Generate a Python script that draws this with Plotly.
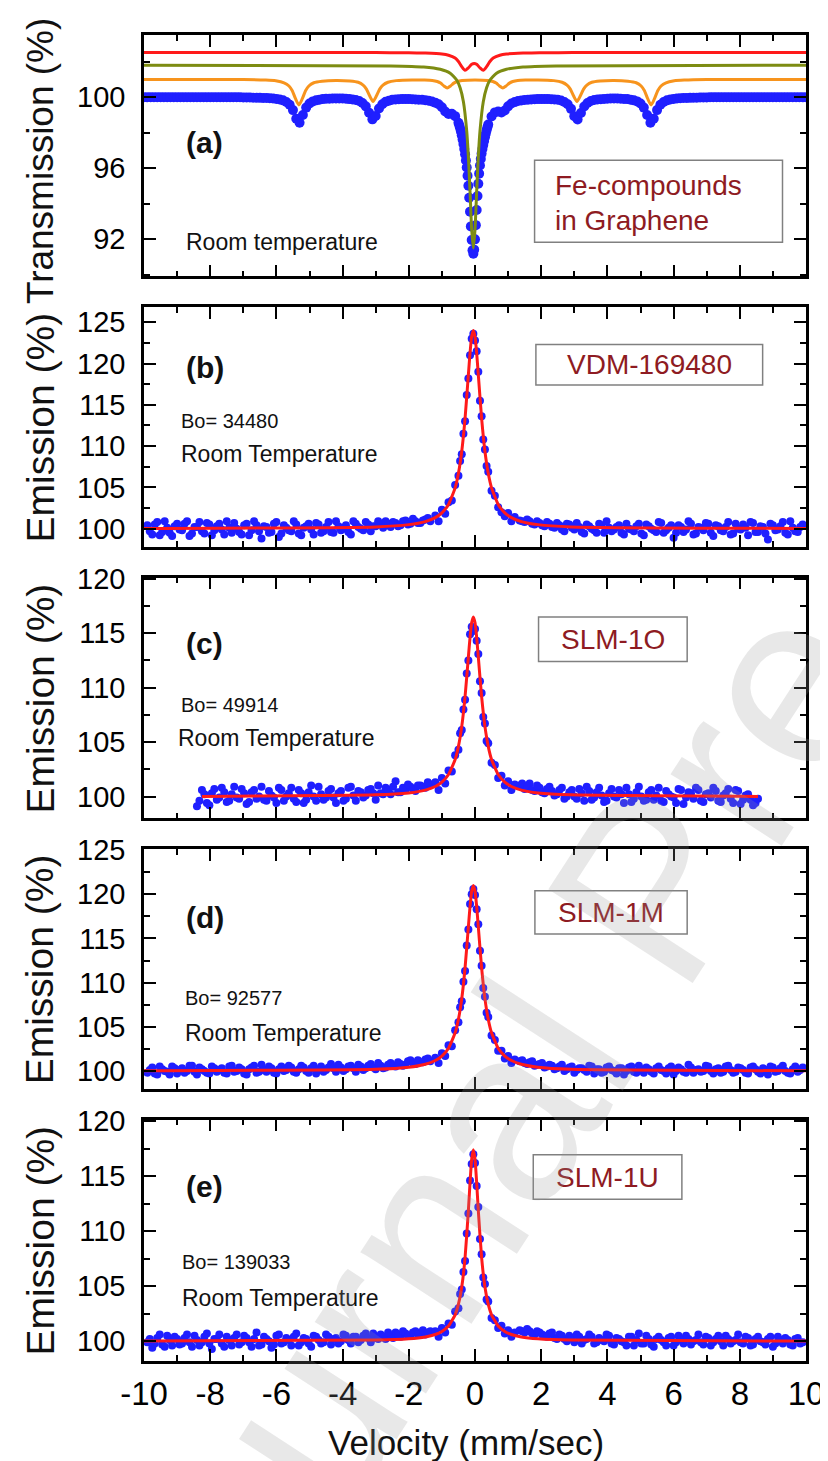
import plotly.graph_objects as go

FONT = "Liberation Sans, Arial, Helvetica, sans-serif"
BLUE = "#1f1fff"
RED = "#ff1a1a"
ORANGE = "#f7941d"
OLIVE = "#7d8c12"
DARKRED = "#8e1b22"

X_TICK_VALS = [-10, -8, -6, -4, -2, 0, 2, 4, 6, 8, 10]
X_TICK_TEXT = ["-10", "-8", "-6", "-4", "-2", "0", "2", "4", "6", "8", "10"]

# ---------------- Panel (a): transmission spectrum ----------------
A_BLUE_X = ([round(-10.0 + 0.1 * i, 3) for i in range(95)]
            + [round(-0.5 + 0.025 * i, 3) for i in range(37)]
            + [round(0.5 + 0.1 * i, 3) for i in range(96)])
A_BLUE_Y = [
    100.0, 100.0, 100.0, 100.0, 100.0, 100.0, 100.0, 100.0, 100.0, 100.0, 100.0, 100.0, 100.0, 100.0, 100.0,
    100.0, 100.0, 100.0, 100.0, 100.0, 100.0, 100.0, 100.0, 100.0, 100.0, 100.0, 100.0, 100.0, 100.0, 100.0,
    99.98, 99.98, 99.98, 99.97, 99.97, 99.96, 99.95, 99.95, 99.94, 99.92,
    99.90, 99.87, 99.82, 99.73, 99.57, 99.27, 98.78, 98.56, 98.99, 99.41,
    99.64, 99.76, 99.82, 99.86, 99.89, 99.91, 99.91, 99.92, 99.92, 99.92,
    99.92, 99.91, 99.89, 99.87, 99.84, 99.78, 99.67, 99.48, 99.12, 98.75,
    98.94, 99.36, 99.60, 99.74, 99.80, 99.85, 99.87, 99.88, 99.89, 99.89,
    99.89, 99.88, 99.87, 99.86, 99.85, 99.83, 99.80, 99.75, 99.69, 99.60,
    99.43, 99.19, 99.05, 99.06, 98.93,
    98.56, 98.42, 98.25, 98.07, 97.86, 97.62, 97.36, 97.08, 96.78, 96.43,
    96.04, 95.57, 95.01, 94.33, 93.55, 92.72, 91.95, 91.38, 91.18, 91.41,
    91.99, 92.79, 93.64, 94.43, 95.12, 95.69, 96.15, 96.52, 96.82, 97.08,
    97.31, 97.53, 97.74, 97.94, 98.13, 98.30, 98.46,
    98.91, 99.14, 99.19, 99.14, 99.25, 99.48, 99.64, 99.72, 99.78, 99.81,
    99.84, 99.86, 99.87, 99.88, 99.89, 99.89, 99.89, 99.89, 99.88, 99.87,
    99.85, 99.81, 99.73, 99.60, 99.34, 98.93, 98.74, 99.11, 99.47, 99.67,
    99.78, 99.84, 99.87, 99.88, 99.90, 99.91, 99.92, 99.92, 99.92, 99.91,
    99.90, 99.89, 99.86, 99.82, 99.76, 99.64, 99.41, 98.99, 98.56, 98.78,
    99.27, 99.57, 99.73, 99.82, 99.87, 99.90, 99.92, 99.94, 99.95, 99.95,
    99.96, 99.97, 99.97, 99.98, 99.98, 99.98,
    100.0, 100.0, 100.0, 100.0, 100.0, 100.0, 100.0, 100.0, 100.0, 100.0, 100.0, 100.0, 100.0, 100.0, 100.0,
    100.0, 100.0, 100.0, 100.0, 100.0, 100.0, 100.0, 100.0, 100.0, 100.0, 100.0, 100.0, 100.0, 100.0, 100.0,
]

A_ORANGE_X = [-10, -7, -6.32, -6.02, -5.77, -5.62, -5.52, -5.42, -5.32, -5.22, -5.12, -5.02, -4.87,
              -4.62, -4.2, -3.78, -3.53, -3.38, -3.28, -3.18, -3.08, -2.98, -2.88, -2.78, -2.63,
              -2.38, -1.9, -1.54, -1.29, -1.14, -1.04, -0.94, -0.84, -0.74, -0.64, -0.54, -0.39,
              0, 0.39, 0.54, 0.64, 0.74, 0.84, 0.94, 1.04, 1.14, 1.29, 1.54, 1.9, 2.38, 2.63,
              2.78, 2.88, 2.98, 3.08, 3.18, 3.28, 3.38, 3.53, 3.78, 4.2, 4.62, 4.87, 5.02, 5.12,
              5.22, 5.32, 5.42, 5.52, 5.62, 5.77, 6.02, 6.32, 7, 10]
A_ORANGE_Y = [101.00, 100.99, 100.96, 100.92, 100.81, 100.63, 100.36, 99.90, 99.56, 99.90, 100.36,
              100.63, 100.81, 100.90, 100.94, 100.91, 100.84, 100.68, 100.45, 100.06, 99.76, 100.06,
              100.45, 100.68, 100.84, 100.93, 100.97, 100.96, 100.94, 100.88, 100.79, 100.63, 100.51,
              100.63, 100.79, 100.88, 100.94, 100.97, 100.94, 100.88, 100.79, 100.63, 100.51, 100.63,
              100.79, 100.88, 100.94, 100.96, 100.97, 100.93, 100.84, 100.68, 100.45, 100.06, 99.76,
              100.06, 100.45, 100.68, 100.84, 100.91, 100.94, 100.90, 100.81, 100.63, 100.36, 99.90,
              99.56, 99.90, 100.36, 100.63, 100.81, 100.92, 100.96, 100.99, 101.00]

A_GREEN_X = [-10, -2.55, -1.55, -1.05, -0.75, -0.55, -0.45, -0.35, -0.25, -0.2, -0.15, -0.1, -0.05,
             0.0, 0.05, 0.1, 0.15, 0.25, 0.35, 0.45, 0.65, 0.95, 1.45, 2.45, 10]
A_GREEN_Y = [101.8, 101.76, 101.7, 101.57, 101.35, 100.95, 100.53, 99.74, 98.09, 96.65, 94.67, 92.53,
             91.5, 92.53, 94.67, 96.65, 98.09, 99.74, 100.53, 100.95, 101.35, 101.57, 101.70, 101.76, 101.8]

A_RED_X = [-10, -3, -2, -1.5, -1.0, -0.8, -0.6, -0.5, -0.4, -0.3, -0.2, -0.1, -0.025, 0.05, 0.15,
           0.25, 0.35, 0.45, 0.55, 0.75, 0.95, 1.45, 1.95, 2.95, 10]
A_RED_Y = [102.52, 102.51, 102.50, 102.48, 102.43, 102.36, 102.20, 102.01, 101.72, 101.51, 101.65,
           101.85, 101.90, 101.85, 101.65, 101.51, 101.72, 102.01, 102.20, 102.36, 102.43, 102.48,
           102.50, 102.51, 102.52]

# ---------------- Panels (b)-(e): emission spectra ----------------
# channel velocities (two interleaved channel sets on each wing)
BG_LEFT_X = [round(-9.9 + 0.15 * i, 3) for i in range(58)]
BG_RIGHT_X = [round(1.35 + 0.15 * i, 3) for i in range(58)]
BG_LEFT_X2 = [round(-9.825 + 0.15 * i, 3) for i in range(57)]
BG_RIGHT_X2 = [round(1.425 + 0.15 * i, 3) for i in range(57)]
C_LEFT_X = [round(-8.4 + 0.15 * i, 3) for i in range(48)]
C_RIGHT_X = [round(1.35 + 0.15 * i, 3) for i in range(49)]
C_LEFT_X2 = [round(-8.325 + 0.15 * i, 3) for i in range(47)]
C_RIGHT_X2 = [round(1.425 + 0.15 * i, 3) for i in range(48)]

PEAK_X = [-1.2, -1.1, -1.0, -0.9, -0.8, -0.7, -0.6, -0.5, -0.45, -0.4, -0.35, -0.3, -0.25, -0.2,
          -0.15, -0.1, -0.05, 0.0, 0.05, 0.1, 0.15, 0.2, 0.25, 0.3, 0.35, 0.4, 0.5, 0.6, 0.7, 0.8,
          0.9, 1.0, 1.1, 1.2]

FIT_X = [-10, -3, -2, -1.5, -1.2, -1.0, -0.8, -0.6, -0.5, -0.4, -0.3, -0.2, -0.15, -0.1, -0.05,
         0.0, 0.05, 0.1, 0.2, 0.3, 0.4, 0.5, 0.7, 0.9, 1.1, 1.4, 1.9, 2.9, 10]
C_FIT_X = [-8.25, -3, -2, -1.5, -1.2, -1.0, -0.8, -0.6, -0.5, -0.4, -0.3, -0.2, -0.15, -0.1, -0.05,
           0.0, 0.05, 0.1, 0.2, 0.3, 0.4, 0.5, 0.7, 0.9, 1.1, 1.4, 1.9, 2.9, 8.55]

# (b) VDM-169480
B_LEFT_Y = [100.4, 99.3, 100.8, 99.6, 100.1, 99.1, 100.6, 99.8, 100.9, 99.4,
            100.2, 99.7, 100.7, 99.2, 100.3, 99.9, 100.9, 99.5, 100.0, 99.3,
            100.6, 99.8, 100.4, 98.8, 100.2, 99.6, 100.8, 99.4, 100.1, 99.7,
            100.5, 99.2, 100.3, 99.9, 100.7, 99.5, 100.2, 99.6, 100.9, 99.8,
            100.4, 99.3, 100.6, 100.0, 100.8, 99.7, 100.3, 100.5, 100.9, 100.2,
            100.7, 100.4, 101.0, 100.6, 100.9, 100.7, 101.1, 100.9]
B_LEFT_Y2 = [99.7, 100.5, 99.2, 100.9, 99.5, 100.3, 99.9, 100.6, 99.1, 100.2,
             100.8, 99.4, 100.5, 99.8, 100.6, 99.3, 100.1, 100.7, 99.6, 100.4,
             99.2, 100.9, 99.7, 100.3, 99.5, 100.6, 99.0, 100.4, 99.8, 100.9,
             99.4, 100.1, 100.6, 99.3, 100.5, 99.7, 100.8, 99.5, 100.3, 100.0,
             99.6, 100.9, 100.2, 99.8, 100.5, 100.3, 100.9, 100.1, 100.6, 100.8,
             100.3, 100.9, 100.5, 101.2, 100.7, 101.0, 101.3]
B_RIGHT_Y = [101.0, 100.8, 100.9, 100.5, 100.7, 100.3, 100.6, 100.1, 100.4, 99.7,
             100.5, 99.9, 100.2, 99.4, 100.3, 99.8, 100.6, 99.5, 100.1, 99.9,
             100.4, 99.3, 100.0, 99.7, 100.6, 99.2, 100.3, 99.8, 100.8, 99.5,
             100.1, 98.9, 100.4, 99.6, 100.9, 99.3, 100.2, 99.8, 100.6, 99.1,
             100.3, 99.7, 100.8, 99.4, 100.0, 100.5, 99.2, 100.7, 99.6, 100.2,
             98.7, 100.4, 99.9, 100.8, 99.3, 100.1, 99.6, 100.5]
B_RIGHT_Y2 = [100.9, 101.1, 100.6, 100.9, 100.4, 100.8, 100.2, 100.7, 99.9, 100.6,
              100.1, 100.7, 99.6, 100.5, 100.0, 99.5, 100.4, 100.9, 99.7, 100.2,
              99.5, 100.6, 99.9, 100.3, 99.4, 100.5, 100.0, 99.6, 100.7, 99.8,
              100.4, 99.5, 100.2, 99.9, 100.6, 99.4, 100.1, 100.7, 99.5, 100.4,
              99.8, 100.2, 99.3, 100.6, 99.9, 100.1, 100.8, 99.6, 100.3, 99.4,
              100.6, 99.8, 100.3, 99.5, 100.9, 99.7, 100.2]
B_PEAK_Y = [101.6, 100.9, 102.3, 101.8, 103.2, 103.4, 105.3, 106.4, 108.2, 109.0,
            111.5, 113.0, 116.2, 118.2, 121.0, 123.0, 123.6, 122.8, 121.5, 119.0,
            115.5, 113.6, 110.8, 109.6, 107.6, 106.9, 104.6, 104.0, 102.6, 102.0,
            101.5, 101.9, 100.9, 101.4]
B_FIT_Y = [100.02, 100.21, 100.49, 100.86, 101.34, 101.92, 102.94, 104.94, 106.70, 109.37, 113.35,
           118.65, 121.28, 123.26, 124.0, 123.26, 121.28, 118.65, 113.35, 109.37, 106.70, 104.94,
           102.94, 101.92, 101.34, 100.86, 100.49, 100.21, 100.02]

# (c) SLM-1O
C_LEFT_Y = [99.1, 100.6, 99.4, 100.3, 99.7, 100.8, 99.5, 100.2, 99.9, 100.7,
            99.3, 100.4, 99.8, 100.9, 99.6, 100.1, 99.4, 100.6, 100.0, 100.8,
            99.5, 100.3, 99.7, 101.0, 99.6, 100.2, 99.9, 100.7, 99.4, 100.5,
            99.8, 100.9, 99.6, 100.4, 100.1, 100.7, 99.7, 100.3, 100.8, 100.2,
            101.4, 100.4, 100.6, 100.9, 100.5, 101.0, 100.8, 101.1]
C_LEFT_Y2 = [99.6, 100.2, 99.2, 100.7, 99.9, 100.4, 99.6, 100.9, 99.8, 100.3,
             99.5, 100.6, 100.0, 99.7, 100.5, 99.9, 100.8, 99.6, 100.3, 99.8,
             100.6, 99.4, 100.4, 100.0, 100.9, 99.7, 100.5, 99.9, 100.3, 99.6,
             100.8, 100.1, 100.5, 99.9, 100.6, 100.3, 101.0, 100.2, 100.6, 100.9,
             100.4, 100.8, 101.1, 100.7, 101.0, 100.9, 101.3]
C_RIGHT_Y = [101.0, 100.7, 101.2, 100.5, 100.8, 100.3, 100.9, 100.1, 100.6, 99.8,
             100.4, 100.0, 100.7, 99.6, 100.5, 99.9, 100.8, 99.5, 100.3, 100.0,
             100.6, 99.4, 100.2, 99.8, 100.9, 99.6, 100.4, 99.7, 100.8, 99.5,
             100.2, 99.9, 100.7, 99.3, 100.4, 99.8, 100.6, 99.5, 100.3, 100.8,
             99.6, 100.1, 100.7, 99.4, 100.5, 99.7, 100.2, 99.2, 99.8]
C_RIGHT_Y2 = [101.2, 100.9, 100.6, 101.0, 100.4, 100.7, 100.5, 100.2, 100.8, 100.0,
              100.6, 99.8, 100.3, 100.9, 99.7, 100.4, 100.1, 99.6, 100.7, 99.9,
              100.2, 100.8, 99.5, 100.4, 100.0, 99.7, 100.6, 100.1, 99.6, 100.5,
              100.0, 99.4, 100.6, 99.9, 100.3, 100.8, 99.6, 100.2, 99.9, 100.5,
              99.5, 100.3, 99.8, 100.6, 99.3, 100.1, 99.7, 99.4]
C_PEAK_Y = [101.3, 100.6, 101.7, 101.2, 102.4, 102.3, 103.8, 104.3, 105.8, 106.1,
            108.0, 108.9, 111.3, 112.5, 114.9, 115.6, 115.2, 115.4, 114.3, 113.1,
            110.6, 109.5, 107.3, 106.7, 105.1, 104.9, 103.1, 102.9, 101.7, 101.9,
            101.0, 101.4, 100.6, 101.1]
C_FIT_Y = [100.01, 100.15, 100.33, 100.59, 100.92, 101.32, 102.02, 103.40, 104.61, 106.44, 109.18,
           112.82, 114.63, 115.99, 116.5, 115.99, 114.63, 112.82, 109.18, 106.44, 104.61, 103.40,
           102.02, 101.32, 100.92, 100.59, 100.33, 100.15, 100.01]

# (d) SLM-1M
D_LEFT_Y = [99.8, 100.4, 99.6, 100.2, 99.9, 100.5, 99.7, 100.3, 100.0, 100.6,
            99.6, 100.2, 99.8, 100.5, 99.9, 100.3, 99.7, 100.6, 100.0, 100.2,
            99.6, 100.4, 99.8, 100.7, 99.9, 100.3, 99.7, 100.5, 100.1, 100.4,
            99.8, 100.6, 100.0, 100.3, 99.7, 100.5, 100.1, 100.8, 99.9, 100.4,
            100.2, 100.6, 99.9, 100.5, 100.3, 100.8, 100.2, 100.6, 100.4, 100.9,
            100.5, 100.8, 100.7, 101.2, 100.8, 101.0, 101.3, 101.1]
D_LEFT_Y2 = [100.1, 99.7, 100.5, 100.0, 99.6, 100.3, 100.1, 99.8, 100.6, 99.9,
             100.4, 100.0, 99.7, 100.3, 100.1, 99.8, 100.5, 99.9, 100.4, 99.7,
             100.2, 100.6, 99.9, 100.1, 100.5, 99.8, 100.2, 100.0, 100.6, 99.9,
             100.2, 100.4, 99.8, 100.6, 100.2, 99.9, 100.4, 100.3, 100.7, 100.0,
             100.5, 100.3, 100.7, 100.1, 100.6, 100.4, 100.9, 100.3, 100.7, 100.6,
             101.0, 100.6, 101.1, 100.9, 101.2, 101.0, 101.4]
D_RIGHT_Y = [101.1, 100.9, 101.0, 100.6, 100.8, 100.4, 100.7, 100.2, 100.5, 100.0,
             100.4, 99.8, 100.3, 100.1, 100.6, 99.7, 100.2, 99.9, 100.5, 100.0,
             100.3, 99.6, 100.4, 99.9, 100.6, 99.8, 100.2, 99.7, 100.5, 100.0,
             100.3, 99.6, 100.4, 99.9, 100.7, 99.8, 100.2, 100.0, 100.5, 99.7,
             100.3, 99.9, 100.6, 99.8, 100.4, 100.1, 99.7, 100.5, 99.9, 100.3,
             99.6, 100.4, 100.0, 100.6, 99.8, 100.2, 99.9, 100.4]
D_RIGHT_Y2 = [101.2, 100.8, 101.1, 100.7, 100.9, 100.5, 100.6, 100.3, 100.7, 100.2,
              100.5, 100.1, 100.3, 99.9, 100.5, 100.2, 99.8, 100.4, 100.1, 99.7,
              100.3, 100.0, 100.5, 99.8, 100.2, 100.4, 99.9, 100.3, 100.1, 99.7,
              100.5, 100.0, 100.2, 99.8, 100.4, 100.1, 99.9, 100.6, 100.0, 100.2,
              99.8, 100.5, 100.1, 99.9, 100.3, 99.8, 100.4, 100.2, 99.7, 100.1,
              100.5, 99.9, 100.3, 100.0, 99.7, 100.5, 100.1]
D_PEAK_Y = [101.5, 100.9, 102.0, 101.7, 102.9, 102.8, 104.6, 105.5, 107.2, 107.9,
            110.1, 111.3, 114.2, 116.0, 118.9, 120.0, 120.6, 119.9, 118.3, 116.6,
            113.6, 111.9, 109.4, 108.4, 106.6, 106.1, 104.0, 103.5, 102.3, 102.3,
            101.4, 101.7, 100.9, 101.3]
D_FIT_Y = [100.02, 100.19, 100.42, 100.76, 101.18, 101.68, 102.57, 104.32, 105.86, 108.19, 111.68,
           116.32, 118.62, 120.35, 121.0, 120.35, 118.62, 116.32, 111.68, 108.19, 105.86, 104.32,
           102.57, 101.68, 101.18, 100.76, 100.42, 100.19, 100.02]

# (e) SLM-1U
E_LEFT_Y = [99.9, 99.4, 100.3, 99.7, 100.5, 99.6, 100.2, 99.8, 100.6, 99.5,
            100.1, 99.9, 100.7, 99.3, 100.2, 99.8, 100.4, 99.6, 100.6, 99.9,
            100.3, 99.5, 100.8, 99.7, 100.2, 99.4, 100.5, 99.8, 100.3, 99.6,
            100.7, 99.9, 100.2, 99.5, 100.4, 99.8, 100.6, 99.7, 100.3, 100.0,
            100.5, 99.8, 100.4, 100.1, 100.7, 99.9, 100.3, 100.6, 100.2, 100.5,
            100.8, 100.4, 100.7, 100.5, 100.9, 100.7, 100.6, 100.9]
E_LEFT_Y2 = [100.2, 99.8, 100.6, 99.5, 100.1, 100.4, 99.7, 100.3, 99.9, 100.5,
             99.6, 100.4, 99.8, 100.2, 100.6, 99.5, 100.1, 100.3, 99.7, 100.5,
             99.9, 100.2, 99.6, 100.4, 100.0, 99.7, 100.6, 99.9, 100.1, 100.4,
             99.6, 100.3, 99.8, 100.5, 100.1, 99.9, 100.4, 100.2, 99.8, 100.6,
             100.1, 100.4, 99.9, 100.5, 100.3, 100.7, 100.2, 100.4, 100.8, 100.3,
             100.6, 100.9, 100.5, 100.8, 100.6, 101.0, 100.8]
E_RIGHT_Y = [101.0, 100.8, 100.9, 100.6, 100.8, 100.5, 100.7, 100.3, 100.6, 100.2,
             100.5, 99.9, 100.4, 100.1, 100.6, 99.8, 100.3, 100.0, 100.5, 99.7,
             100.2, 99.9, 100.4, 99.6, 100.7, 99.8, 100.2, 99.5, 100.4, 99.9,
             100.3, 99.6, 100.5, 99.8, 100.2, 100.0, 100.6, 99.7, 100.3, 99.9,
             100.5, 99.6, 100.2, 100.0, 100.6, 99.8, 100.3, 99.7, 100.4, 99.9,
             100.2, 99.5, 100.4, 99.8, 100.1, 99.6, 100.3, 99.9]
E_RIGHT_Y2 = [100.9, 101.1, 100.7, 100.9, 100.6, 100.4, 100.8, 100.2, 100.5, 100.0,
              100.3, 100.6, 99.8, 100.2, 100.4, 99.9, 100.1, 100.6, 99.8, 100.3,
              100.0, 99.6, 100.4, 100.1, 99.8, 100.5, 99.7, 100.2, 100.1, 99.6,
              100.4, 99.9, 100.2, 100.5, 99.7, 100.1, 99.9, 100.4, 99.6, 100.2,
              100.0, 100.5, 99.8, 100.1, 99.9, 100.4, 99.6, 100.2, 100.0, 99.7,
              100.4, 99.8, 100.1, 100.3, 99.7, 100.2, 99.8]
E_PEAK_Y = [100.9, 100.4, 101.2, 100.8, 101.6, 101.5, 102.7, 103.0, 104.3, 104.7,
            106.3, 107.3, 109.8, 111.6, 114.6, 116.1, 117.0, 116.2, 114.1, 112.2,
            109.3, 107.9, 105.8, 105.2, 103.8, 103.6, 102.1, 101.9, 101.2, 101.4,
            100.7, 101.0, 100.4, 100.8]
E_FIT_Y = [100.01, 100.10, 100.22, 100.39, 100.61, 100.89, 101.38, 102.40, 103.36, 104.93, 107.59,
           111.88, 114.42, 116.55, 117.4, 116.55, 114.42, 111.88, 107.59, 104.93, 103.36, 102.40,
           101.38, 100.89, 100.61, 100.39, 100.22, 100.10, 100.01]

for a, b in [(A_BLUE_X, A_BLUE_Y), (A_ORANGE_X, A_ORANGE_Y), (A_GREEN_X, A_GREEN_Y),
             (A_RED_X, A_RED_Y),
             (BG_LEFT_X, B_LEFT_Y), (BG_RIGHT_X, B_RIGHT_Y), (BG_LEFT_X2, B_LEFT_Y2),
             (BG_RIGHT_X2, B_RIGHT_Y2), (PEAK_X, B_PEAK_Y), (FIT_X, B_FIT_Y),
             (C_LEFT_X, C_LEFT_Y), (C_RIGHT_X, C_RIGHT_Y), (C_LEFT_X2, C_LEFT_Y2),
             (C_RIGHT_X2, C_RIGHT_Y2), (PEAK_X, C_PEAK_Y), (C_FIT_X, C_FIT_Y),
             (BG_LEFT_X, D_LEFT_Y), (BG_RIGHT_X, D_RIGHT_Y), (BG_LEFT_X2, D_LEFT_Y2),
             (BG_RIGHT_X2, D_RIGHT_Y2), (PEAK_X, D_PEAK_Y), (FIT_X, D_FIT_Y),
             (BG_LEFT_X, E_LEFT_Y), (BG_RIGHT_X, E_RIGHT_Y), (BG_LEFT_X2, E_LEFT_Y2),
             (BG_RIGHT_X2, E_RIGHT_Y2), (PEAK_X, E_PEAK_Y), (FIT_X, E_FIT_Y)]:
    assert len(a) == len(b), (len(a), len(b))

# ---------------- Figure ----------------
DOMAINS = [[0.8179, 1.0], [0.6140, 0.7946], [0.4093, 0.5907], [0.2054, 0.3860], [0.0, 0.1821]]
Y_RANGES = [[89.9, 103.5], [97.8, 126.8], [98.0, 120.1], [98.0, 125.1], [98.2, 120.15]]
Y_DTICK = [4, 5, 5, 5, 5]
Y_TICK0 = [92, 100, 100, 100, 100]
Y_MINOR = [2, 2.5, 2.5, 2.5, 2.5]
Y_TITLES = ["Transmission (%)", "Emission (%)", "Emission (%)", "Emission (%)", "Emission (%)"]
Y_TITLE_SIZE = [37, 39, 39, 39, 39]
Y_TITLE_POS = [0.9052, 0.7043, 0.5000, 0.2957, 0.0911]


def ax(i):
    return ("x", "y") if i == 1 else (f"x{i}", f"y{i}")


fig = go.Figure()

xa, ya = ax(1)
fig.add_trace(go.Scatter(x=A_BLUE_X, y=A_BLUE_Y, mode="markers", xaxis=xa, yaxis=ya,
                         marker=dict(color=BLUE, size=10, line=dict(width=0))))
fig.add_trace(go.Scatter(x=A_ORANGE_X, y=A_ORANGE_Y, mode="lines", xaxis=xa, yaxis=ya,
                         line=dict(color=ORANGE, width=3, shape="spline", smoothing=0.6)))
fig.add_trace(go.Scatter(x=A_GREEN_X, y=A_GREEN_Y, mode="lines", xaxis=xa, yaxis=ya,
                         line=dict(color=OLIVE, width=3, shape="spline", smoothing=0.5)))
fig.add_trace(go.Scatter(x=A_RED_X, y=A_RED_Y, mode="lines", xaxis=xa, yaxis=ya,
                         line=dict(color=RED, width=3, shape="spline", smoothing=0.6)))

EMISSION = [
    (2, [BG_LEFT_X, BG_LEFT_X2, PEAK_X, BG_RIGHT_X, BG_RIGHT_X2],
     [B_LEFT_Y, B_LEFT_Y2, B_PEAK_Y, B_RIGHT_Y, B_RIGHT_Y2], FIT_X, B_FIT_Y),
    (3, [C_LEFT_X, C_LEFT_X2, PEAK_X, C_RIGHT_X, C_RIGHT_X2],
     [C_LEFT_Y, C_LEFT_Y2, C_PEAK_Y, C_RIGHT_Y, C_RIGHT_Y2], C_FIT_X, C_FIT_Y),
    (4, [BG_LEFT_X, BG_LEFT_X2, PEAK_X, BG_RIGHT_X, BG_RIGHT_X2],
     [D_LEFT_Y, D_LEFT_Y2, D_PEAK_Y, D_RIGHT_Y, D_RIGHT_Y2], FIT_X, D_FIT_Y),
    (5, [BG_LEFT_X, BG_LEFT_X2, PEAK_X, BG_RIGHT_X, BG_RIGHT_X2],
     [E_LEFT_Y, E_LEFT_Y2, E_PEAK_Y, E_RIGHT_Y, E_RIGHT_Y2], FIT_X, E_FIT_Y),
]
for i, xs, ys, fx, fy in EMISSION:
    xa, ya = ax(i)
    px = [v for part in xs for v in part]
    py = [v for part in ys for v in part]
    fig.add_trace(go.Scatter(x=px, y=py, mode="markers", xaxis=xa, yaxis=ya,
                             marker=dict(color=BLUE, size=8, line=dict(width=0))))
    fig.add_trace(go.Scatter(x=fx, y=fy, mode="lines", xaxis=xa, yaxis=ya,
                             line=dict(color=RED, width=3, shape="spline", smoothing=0.5)))

layout = dict(
    width=828, height=1461,
    margin=dict(l=136, r=21, t=24, b=108),
    paper_bgcolor="white", plot_bgcolor="white",
    showlegend=False,
    font=dict(family=FONT, color="black"),
)
for i in range(1, 6):
    xkey = "xaxis" if i == 1 else f"xaxis{i}"
    ykey = "yaxis" if i == 1 else f"yaxis{i}"
    xa, ya = ax(i)
    layout[xkey] = dict(
        domain=[0, 1], anchor=ya, range=[-10, 10],
        tickmode="array", tickvals=X_TICK_VALS, ticktext=X_TICK_TEXT,
        showticklabels=(i == 5), tickfont=dict(size=33, family=FONT),
        ticks="inside", ticklen=12, tickwidth=2, tickcolor="black",
        minor=dict(dtick=1, tick0=0, ticks="inside", ticklen=6, tickwidth=2, tickcolor="black"),
        showline=True, linewidth=2.5, linecolor="black", mirror="ticks",
        showgrid=False, zeroline=False, ticklabelstandoff=2,
    )
    if i > 1:
        layout[xkey]["matches"] = "x"
    layout[ykey] = dict(
        domain=DOMAINS[i - 1], anchor=xa, range=Y_RANGES[i - 1],
        dtick=Y_DTICK[i - 1], tick0=Y_TICK0[i - 1],
        tickfont=dict(size=29, family=FONT),
        ticks="inside", ticklen=12, tickwidth=2, tickcolor="black",
        minor=dict(dtick=Y_MINOR[i - 1], ticks="inside", ticklen=6, tickwidth=2, tickcolor="black"),
        showline=True, linewidth=2.5, linecolor="black", mirror="ticks",
        showgrid=False, zeroline=False, ticklabelstandoff=10,
    )
fig.update_layout(**layout)

ann = []
shapes = []


def txt(i, x, y, text, size, color="#111111", xanchor="left"):
    xa, ya = ax(i)
    ann.append(dict(x=x, y=y, xref=xa, yref=ya, text=text, showarrow=False,
                    xanchor=xanchor, yanchor="middle", font=dict(size=size, color=color, family=FONT)))


def box(i, x0, x1, y0, y1):
    xa, ya = ax(i)
    shapes.append(dict(type="rect", xref=xa, yref=ya, x0=x0, x1=x1, y0=y0, y1=y1,
                       line=dict(color="#808080", width=1.5), layer="above"))


PANEL_LABELS = ["(a)", "(b)", "(c)", "(d)", "(e)"]
PANEL_LABEL_Y = [97.46, 119.5, 114.1, 117.4, 114.06]
for i in range(5):
    txt(i + 1, -8.16, PANEL_LABEL_Y[i], "<b>" + PANEL_LABELS[i] + "</b>", 30, xanchor="center")

txt(1, -8.79, 91.83, "Room temperature", 23)
box(1, 1.8, 9.29, 91.83, 96.45)
txt(1, 2.36, 95.04, "Fe-compounds", 28, DARKRED)
txt(1, 2.36, 93.07, "in Graphene", 28, DARKRED)

BO_TEXT = ["Bo= 34480", "Bo= 49914", "Bo= 92577", "Bo= 139033"]
BO_POS = [(-8.94, 113.06), (-8.94, 108.4), (-8.82, 108.3), (-8.9, 107.2)]
RT_POS = [(-8.94, 109.0), (-9.02, 105.35), (-8.82, 104.35), (-8.9, 103.9)]
SAMPLES = ["VDM-169480", "SLM-1O", "SLM-1M", "SLM-1U"]
BOXES = [(1.84, 8.69, 117.4, 122.3), (1.92, 6.41, 112.4, 116.5),
         (1.81, 6.41, 115.5, 120.4), (1.76, 6.25, 112.9, 116.95)]
for k in range(4):
    i = k + 2
    txt(i, BO_POS[k][0], BO_POS[k][1], BO_TEXT[k], 20)
    txt(i, RT_POS[k][0], RT_POS[k][1], "Room Temperature", 23)
    x0, x1, y0, y1 = BOXES[k]
    box(i, x0, x1, y0, y1)
    txt(i, (x0 + x1) / 2, (y0 + y1) / 2, SAMPLES[k], 28, DARKRED, xanchor="center")

for i in range(5):
    ann.append(dict(x=-0.1565, y=Y_TITLE_POS[i], xref="paper", yref="paper", text=Y_TITLES[i],
                    textangle=-90, showarrow=False, xanchor="center", yanchor="middle",
                    font=dict(size=Y_TITLE_SIZE[i], family=FONT, color="#111111")))
ann.append(dict(x=0.486, y=-0.0615, xref="paper", yref="paper", text="Velocity (mm/sec)",
                showarrow=False, xanchor="center", yanchor="middle",
                font=dict(size=35, family=FONT, color="#111111")))

# watermark
ann.append(dict(x=0.766, y=0.356, xref="paper", yref="paper", text="Journal Pre-proof",
                textangle=-57, showarrow=False, xanchor="center", yanchor="middle",
                font=dict(size=250, family=FONT, color="rgba(150,150,150,0.22)")))

fig.update_layout(annotations=ann, shapes=shapes)
fig.write_html("out.html")
